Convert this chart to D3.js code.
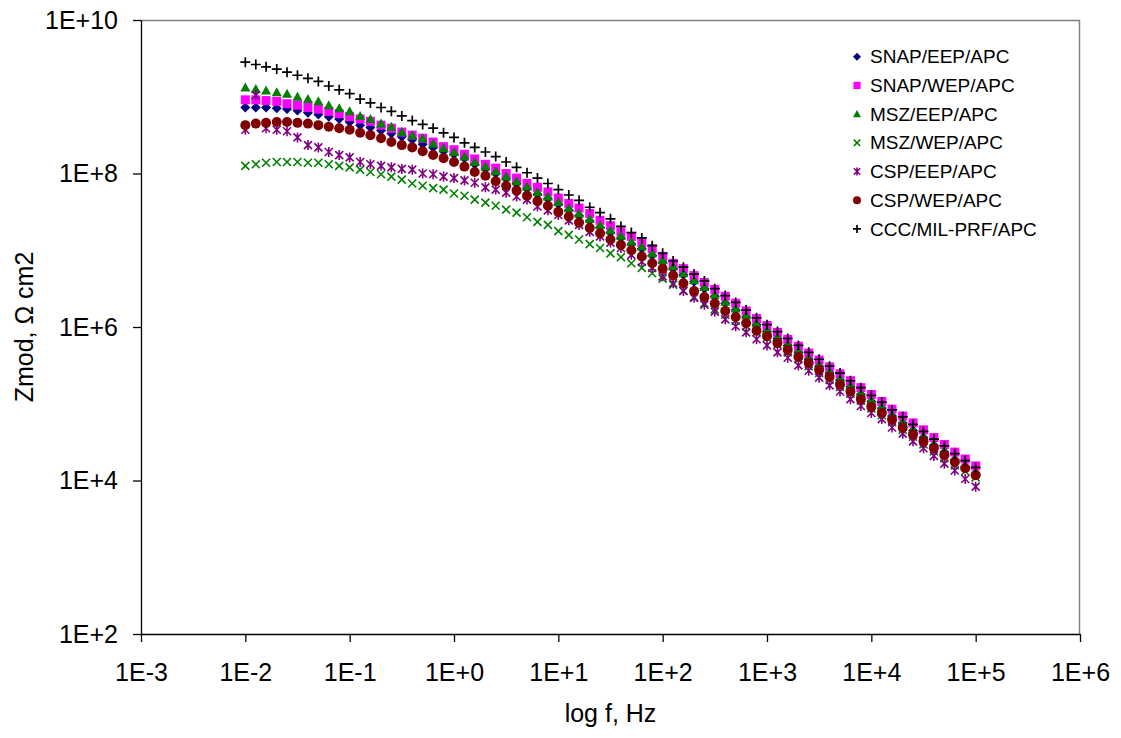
<!DOCTYPE html>
<html><head><meta charset="utf-8">
<script src="https://cdn.jsdelivr.net/npm/d3@7"></script>
<style>body{margin:0;background:#fff}text{font-family:"Liberation Sans",Arial,sans-serif;fill:#000}</style>
</head><body>
<svg id="chart" width="1121" height="738"></svg>
<script>
// Frequencies (Hz), 10 points per decade
const freqHz = [
 0.01,0.0126,0.0158,0.02,0.0251,0.0316,0.0398,0.0501,0.0631,0.0794,
 0.1,0.126,0.158,0.2,0.251,0.316,0.398,0.501,0.631,0.794,
 1,1.26,1.58,2,2.51,3.16,3.98,5.01,6.31,7.94,
 10,12.6,15.8,20,25.1,31.6,39.8,50.1,63.1,79.4,
 100,126,158,200,251,316,398,501,631,794,
 1000,1260,1580,2000,2510,3160,3980,5010,6310,7940,
 10000,12600,15800,20000,25100,31600,39800,50100,63100,79400,
 100000];

// log10(Zmod / Ω cm2)
const snapEepLogZ = [
 8.86,8.86,8.86,8.85,8.84,8.82,8.79,8.77,8.74,8.71,
 8.67,8.63,8.60,8.56,8.52,8.48,8.44,8.38,8.34,8.29,
 8.25,8.20,8.12,8.06,8.00,7.93,7.87,7.80,7.73,7.67,
 7.60,7.52,7.45,7.38,7.30,7.23,7.16,7.08,7.02,6.93,
 6.84,6.76,6.68,6.59,6.50,6.40,6.31,6.22,6.13,6.03,
 5.94,5.85,5.76,5.67,5.58,5.49,5.40,5.31,5.22,5.12,
 5.03,4.94,4.84,4.75,4.65,4.56,4.46,4.37,4.27,4.18,4.09];
const snapWepLogZ = [
 8.96,8.96,8.95,8.94,8.91,8.89,8.86,8.84,8.81,8.78,
 8.74,8.71,8.68,8.63,8.59,8.54,8.50,8.46,8.41,8.35,
 8.31,8.25,8.19,8.12,8.07,8.00,7.94,7.87,7.82,7.76,
 7.68,7.61,7.55,7.48,7.39,7.32,7.24,7.18,7.10,7.02,
 6.92,6.83,6.76,6.67,6.58,6.49,6.40,6.31,6.21,6.11,
 6.02,5.93,5.84,5.75,5.66,5.57,5.48,5.39,5.30,5.21,
 5.12,5.03,4.93,4.84,4.75,4.66,4.56,4.47,4.37,4.28,4.19];
const mszEepLogZ = [
 9.12,9.10,9.08,9.06,9.04,9.00,8.97,8.94,8.89,8.85,
 8.81,8.75,8.71,8.65,8.61,8.54,8.50,8.46,8.39,8.33,
 8.28,8.22,8.15,8.09,8.03,7.96,7.90,7.83,7.76,7.70,
 7.63,7.55,7.48,7.41,7.33,7.26,7.19,7.11,7.05,6.96,
 6.87,6.79,6.70,6.61,6.52,6.42,6.33,6.24,6.15,6.05,
 5.96,5.87,5.78,5.69,5.60,5.51,5.42,5.33,5.24,5.14,
 5.05,4.96,4.86,4.77,4.67,4.58,4.48,4.39,4.29,4.20,4.11];
const mszWepLogZ = [
 8.10,8.12,8.14,8.15,8.15,8.15,8.14,8.14,8.12,8.10,
 8.08,8.05,8.02,7.99,7.96,7.92,7.87,7.84,7.81,7.79,
 7.74,7.71,7.66,7.62,7.58,7.53,7.49,7.43,7.37,7.33,
 7.25,7.20,7.14,7.08,7.03,6.96,6.91,6.83,6.77,6.70,
 6.63,6.55,6.47,6.39,6.31,6.23,6.16,6.08,6.01,5.93,
 5.86,5.77,5.67,5.58,5.49,5.40,5.31,5.22,5.13,5.04,
 4.94,4.85,4.76,4.66,4.57,4.47,4.38,4.29,4.20,4.12,4.04];
const cspEepLogZ = [
 8.57,9.02,8.59,8.57,8.55,8.47,8.37,8.34,8.28,8.24,
 8.21,8.15,8.12,8.10,8.08,8.06,8.05,8.00,7.99,7.96,
 7.94,7.91,7.88,7.82,7.79,7.75,7.70,7.66,7.57,7.52,
 7.46,7.39,7.33,7.24,7.18,7.10,7.03,6.94,6.85,6.77,
 6.66,6.57,6.47,6.38,6.29,6.20,6.10,6.01,5.93,5.84,
 5.76,5.67,5.60,5.50,5.43,5.34,5.24,5.16,5.06,4.97,
 4.88,4.80,4.69,4.61,4.51,4.42,4.32,4.22,4.13,4.02,3.92];
const cspWepLogZ = [
 8.63,8.65,8.66,8.67,8.67,8.66,8.65,8.63,8.61,8.59,
 8.57,8.53,8.50,8.46,8.41,8.37,8.34,8.29,8.24,8.20,
 8.15,8.09,8.02,7.97,7.90,7.84,7.78,7.71,7.64,7.58,
 7.50,7.44,7.36,7.29,7.22,7.14,7.07,7.00,6.92,6.83,
 6.76,6.67,6.57,6.47,6.39,6.31,6.21,6.13,6.05,5.95,
 5.88,5.79,5.70,5.61,5.53,5.44,5.35,5.25,5.16,5.06,
 4.96,4.88,4.79,4.69,4.60,4.51,4.42,4.33,4.24,4.16,4.07];
const cccLogZ = [
 9.45,9.42,9.39,9.36,9.32,9.28,9.24,9.20,9.14,9.09,
 9.04,8.97,8.92,8.86,8.81,8.75,8.69,8.64,8.59,8.53,
 8.47,8.40,8.34,8.28,8.22,8.15,8.08,8.01,7.94,7.87,
 7.79,7.72,7.65,7.56,7.49,7.41,7.31,7.23,7.16,7.06,
 6.96,6.86,6.78,6.69,6.60,6.50,6.41,6.32,6.22,6.12,
 6.03,5.94,5.85,5.76,5.67,5.58,5.49,5.40,5.30,5.21,
 5.11,5.02,4.92,4.83,4.73,4.64,4.54,4.45,4.35,4.26,4.17];

const seriesNames = ["SNAP/EEP/APC","SNAP/WEP/APC","MSZ/EEP/APC","MSZ/WEP/APC","CSP/EEP/APC","CSP/WEP/APC","CCC/MIL-PRF/APC"];
const seriesLogZ = [snapEepLogZ, snapWepLogZ, mszEepLogZ, mszWepLogZ, cspEepLogZ, cspWepLogZ, cccLogZ];
const xTickValues = [1e-3,1e-2,1e-1,1e0,1e1,1e2,1e3,1e4,1e5,1e6];
const yTickValues = [1e2,1e4,1e6,1e8,1e10];
const xTitle = "log f, Hz";
const yTitle = "Zmod, \u03A9 cm2";

// styling
const styles = [
  {shape:"diamond", color:"#000080"},
  {shape:"square", color:"#FF00FF"},
  {shape:"triangle", color:"#008000"},
  {shape:"x", color:"#008000"},
  {shape:"asterisk", color:"#800080"},
  {shape:"circle", color:"#800000"},
  {shape:"plus", color:"#000000"}
];

const svg = d3.select("#chart");
const L = 141, R = 1080, T = 20, B = 634;
const x = d3.scaleLog().domain([1e-3,1e6]).range([L,R]);
const y = d3.scaleLog().domain([1e2,1e10]).range([B,T]);
const fmt = v => { const e = Math.round(Math.log10(v)); return "1E" + (e < 0 ? "-" + (-e) : "+" + e); };

// plot frame (top/right in grey)
svg.append("line").attr("x1",L).attr("x2",R).attr("y1",T+0.5).attr("y2",T+0.5).attr("stroke","#808080").attr("stroke-width",1.5);
svg.append("line").attr("x1",R-0.5).attr("x2",R-0.5).attr("y1",T).attr("y2",B).attr("stroke","#808080").attr("stroke-width",1.5);

const xAxis = svg.append("g").attr("transform",`translate(0,${B})`)
  .call(d3.axisBottom(x).tickValues(xTickValues).tickFormat(fmt).tickSize(8).tickSizeOuter(0).tickPadding(21));
const yAxis = svg.append("g").attr("transform",`translate(${L},0)`)
  .call(d3.axisLeft(y).tickValues(yTickValues).tickFormat(fmt).tickSize(8).tickSizeOuter(0).tickPadding(15));
[xAxis,yAxis].forEach(g => {
  g.selectAll("path.domain").attr("stroke","#000").attr("stroke-width",1.3);
  g.selectAll(".tick line").attr("stroke","#000").attr("stroke-width",1.3);
  g.selectAll(".tick text").attr("font-size",25).attr("font-family","Liberation Sans, Arial, sans-serif").attr("fill","#000");
});

svg.append("text").attr("x",(L+R)/2).attr("y",722).attr("text-anchor","middle").attr("font-size",25).text(xTitle);
svg.append("text").attr("transform",`translate(33,${(T+B)/2}) rotate(-90)`).attr("text-anchor","middle").attr("font-size",25).text(yTitle);

function drawMarker(g, shape, color, r) {
  switch (shape) {
    case "diamond":
      g.append("path").attr("d",`M0,${-r}L${r},0L0,${r}L${-r},0Z`).attr("fill",color); break;
    case "square":
      g.append("rect").attr("x",-r*0.9).attr("y",-r*0.9).attr("width",r*1.8).attr("height",r*1.8).attr("fill",color); break;
    case "triangle":
      g.append("path").attr("d",`M0,${-r}L${r},${r*0.8}L${-r},${r*0.8}Z`).attr("fill",color); break;
    case "circle":
      g.append("circle").attr("r",r).attr("fill",color); break;
    case "x": {
      const a = r*0.8;
      g.append("path").attr("d",`M${-a},${-a}L${a},${a}M${-a},${a}L${a},${-a}`).attr("stroke",color).attr("stroke-width",1.6).attr("fill","none"); break; }
    case "asterisk": {
      const a = r*0.8;
      g.append("path").attr("d",`M${-a},${-a}L${a},${a}M${-a},${a}L${a},${-a}M0,${-r}L0,${r}`).attr("stroke",color).attr("stroke-width",1.6).attr("fill","none"); break; }
    case "plus":
      g.append("path").attr("d",`M${-r},0L${r},0M0,${-r}L0,${r}`).attr("stroke",color).attr("stroke-width",1.7).attr("fill","none"); break;
  }
}

// series points
seriesLogZ.forEach((vals, si) => {
  const st = styles[si];
  const pts = freqHz.map((f,i) => ({f, z: Math.pow(10, vals[i])}));
  const g = svg.append("g");
  pts.forEach(p => {
    const m = g.append("g").attr("transform",`translate(${x(p.f)},${y(p.z)})`);
    drawMarker(m, st.shape, st.color, 5);
  });
});

// legend
const lg = svg.append("g");
seriesNames.forEach((name, i) => {
  const yy = 56.7 + i*28.7;
  const m = lg.append("g").attr("transform",`translate(857,${yy})`);
  drawMarker(m, styles[i].shape, styles[i].color, 4);
  lg.append("text").attr("x",870).attr("y",yy).attr("dy","0.35em").attr("font-size",19).text(name);
});
</script>
</body></html>
